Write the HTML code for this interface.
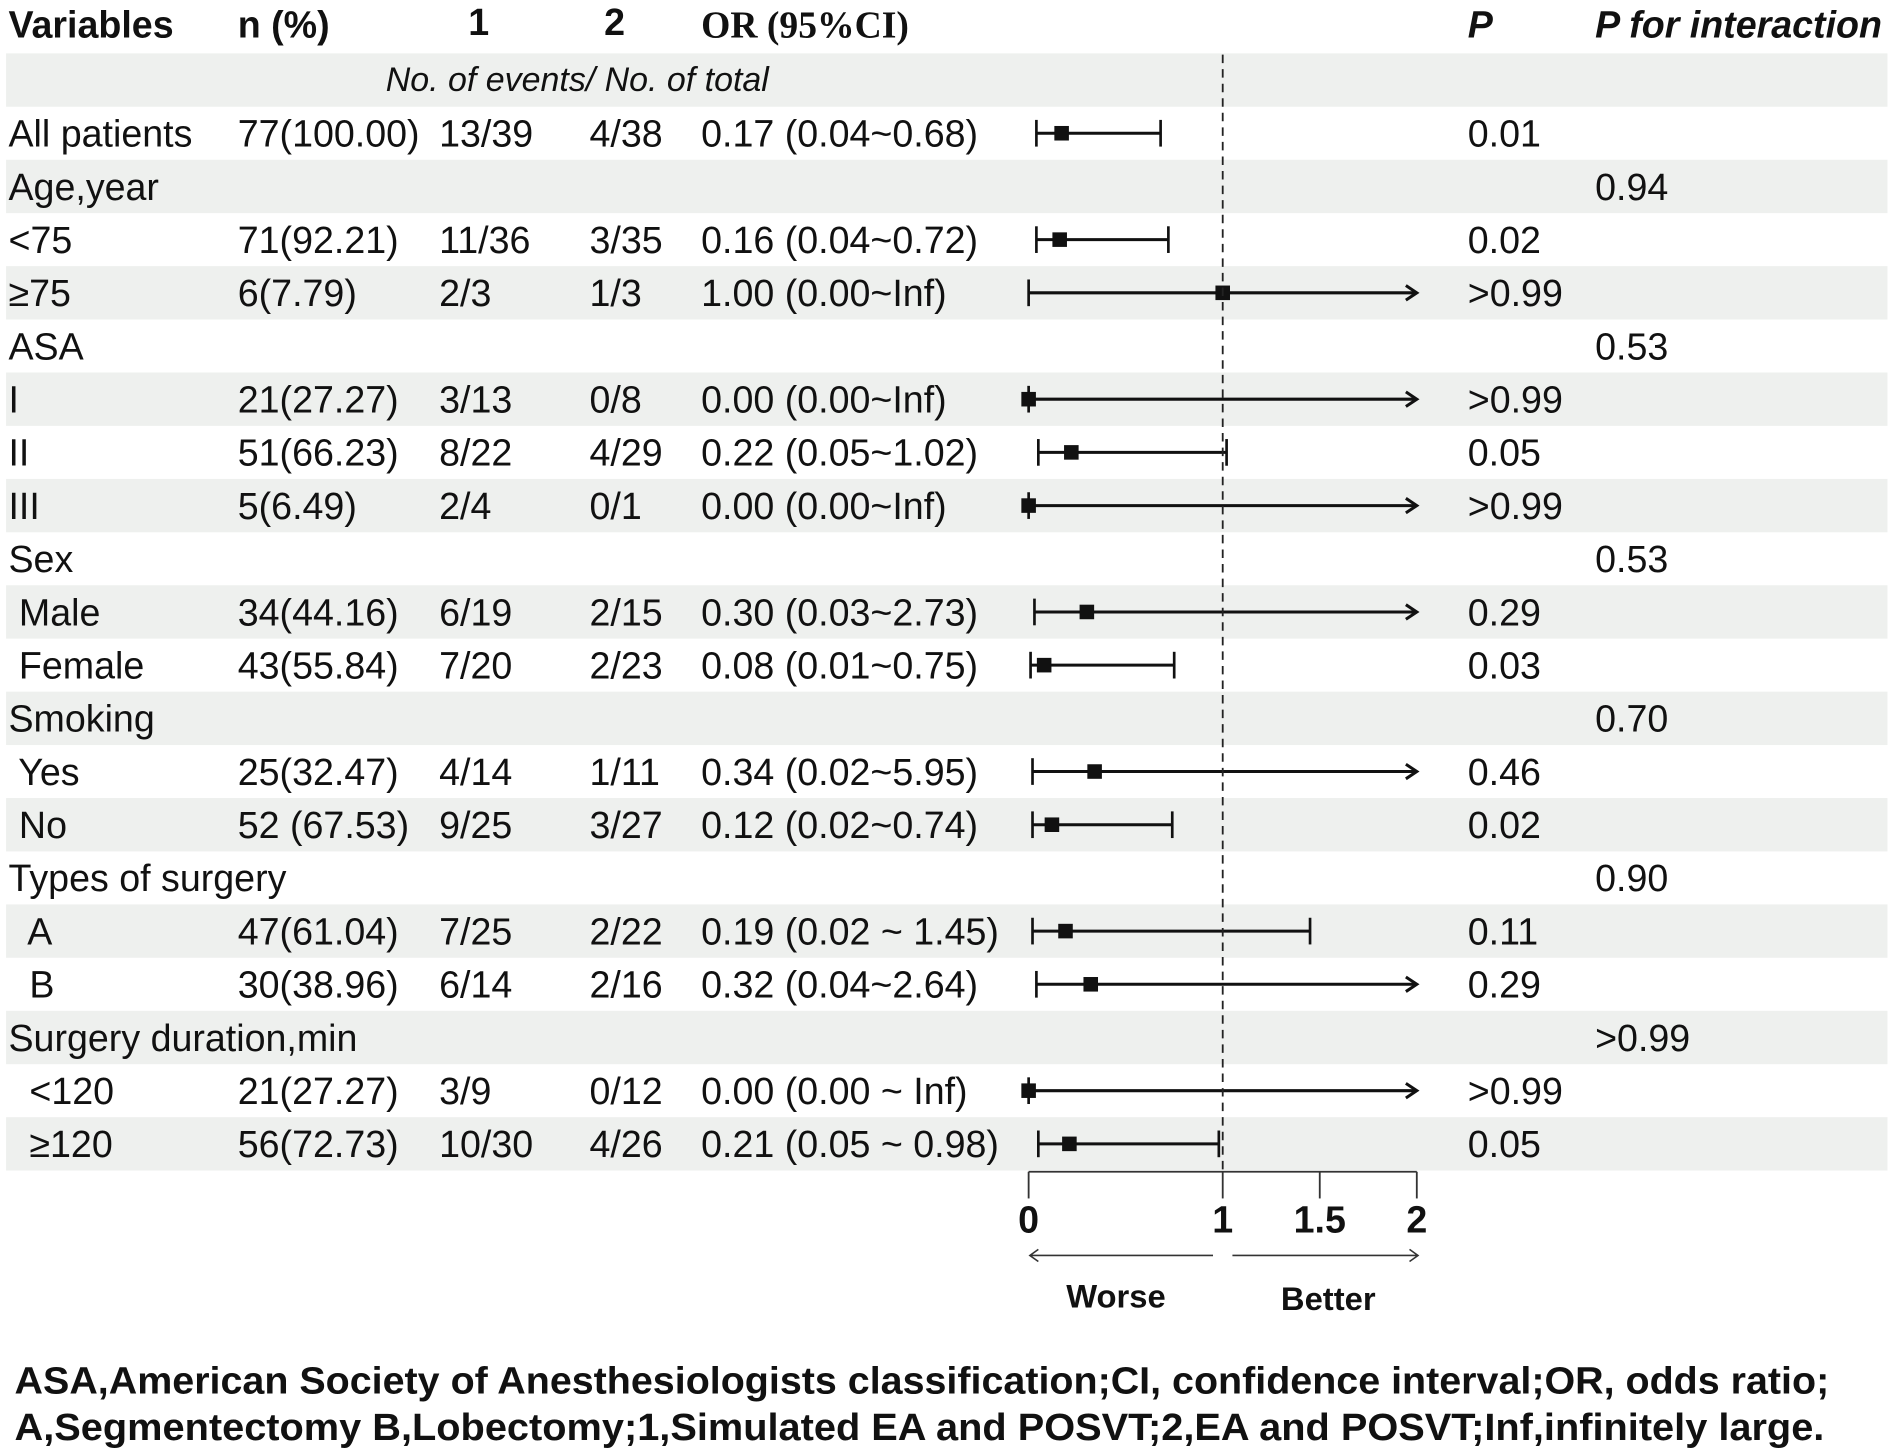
<!DOCTYPE html>
<html><head><meta charset="utf-8"><style>
html,body{margin:0;padding:0;background:#fff}
svg{display:block}
text{font-family:"Liberation Sans",Arial,sans-serif;fill:#111;white-space:pre}
</style></head><body>
<svg id="chart" width="1902" height="1455" viewBox="0 0 1568 1199.5" preserveAspectRatio="none" xmlns="http://www.w3.org/2000/svg">
<g id="bands"></g>
<g id="header" font-weight="bold" font-size="31">
<text x="7" y="31">Variables</text>
<text x="196" y="31">n (%)</text>
<text x="386" y="29">1</text>
<text x="498" y="29">2</text>
<text x="578" y="31" style="font-family:'Liberation Serif',serif">OR (95%CI)</text>
<text x="1210" y="31" font-style="italic">P</text>
<text x="1315" y="31" font-style="italic">P for interaction</text>
</g>
<text x="318" y="75" font-size="28" font-style="italic">No. of events/ No. of total</text>
<g id="rows" font-size="31"></g>
<g id="marks"></g>
<g id="axis"></g>
<g font-weight="bold" font-size="31">
<text x="12" y="1149" textLength="1496" lengthAdjust="spacingAndGlyphs">ASA,American Society of Anesthesiologists classification;CI, confidence interval;OR, odds ratio;</text>
<text x="12" y="1187" textLength="1492" lengthAdjust="spacingAndGlyphs">A,Segmentectomy B,Lobectomy;1,Simulated EA and POSVT;2,EA and POSVT;Inf,infinitely large.</text>
</g>
</svg>
<script>
const labels=["All patients","Age,year","<75","≥75","ASA","I","II","III","Sex"," Male"," Female","Smoking"," Yes"," No","Types of surgery","  A","  B","Surgery duration,min","  <120","  ≥120"];
const nPct=["77(100.00)","","71(92.21)","6(7.79)","","21(27.27)","51(66.23)","5(6.49)","","34(44.16)","43(55.84)","","25(32.47)","52 (67.53)","","47(61.04)","30(38.96)","","21(27.27)","56(72.73)"];
const g1=["13/39","","11/36","2/3","","3/13","8/22","2/4","","6/19","7/20","","4/14","9/25","","7/25","6/14","","3/9","10/30"];
const g2=["4/38","","3/35","1/3","","0/8","4/29","0/1","","2/15","2/23","","1/11","3/27","","2/22","2/16","","0/12","4/26"];
const orText=["0.17 (0.04~0.68)","","0.16 (0.04~0.72)","1.00 (0.00~Inf)","","0.00 (0.00~Inf)","0.22 (0.05~1.02)","0.00 (0.00~Inf)","","0.30 (0.03~2.73)","0.08 (0.01~0.75)","","0.34 (0.02~5.95)","0.12 (0.02~0.74)","","0.19 (0.02 ~ 1.45)","0.32 (0.04~2.64)","","0.00 (0.00 ~ Inf)","0.21 (0.05 ~ 0.98)"];
const orVal=[0.17,null,0.16,1.00,null,0.00,0.22,0.00,null,0.30,0.08,null,0.34,0.12,null,0.19,0.32,null,0.00,0.21];
const loVal=[0.04,null,0.04,0.00,null,0.00,0.05,0.00,null,0.03,0.01,null,0.02,0.02,null,0.02,0.04,null,0.00,0.05];
const hiVal=[0.68,null,0.72,Infinity,null,Infinity,1.02,Infinity,null,2.73,0.75,null,5.95,0.74,null,1.45,2.64,null,Infinity,0.98];
const pVal=["0.01","","0.02",">0.99","",">0.99","0.05",">0.99","","0.29","0.03","","0.46","0.02","","0.11","0.29","",">0.99","0.05"];
const pInt=["","0.94","","","0.53","","","","0.53","","","0.70","","","0.90","","",">0.99","",""];
const ticks=[0,1,1.5,2];
const NS="http://www.w3.org/2000/svg";
const X=v=>848+160*v, XMAX=2;
const rowY=k=>66+43.85*k;
function el(t,a,p){const e=document.createElementNS(NS,t);for(const k in a)e.setAttribute(k,a[k]);p.appendChild(e);return e;}
const bands=document.getElementById('bands'),rows=document.getElementById('rows'),marks=document.getElementById('marks'),axis=document.getElementById('axis');
for(let k=0;k<=20;k+=2){const r=el('rect',{x:5,y:rowY(k)-22,width:1551,height:44,fill:'#eef0ee'},bands);

}
const cols=[[labels,7],[nPct,196],[g1,362],[g2,486],[orText,578],[pVal,1210],[pInt,1315]];
labels.forEach((l,i)=>{const y=rowY(i+1)+11;
cols.forEach(([arr,x],ci)=>{if(!arr[i])return;const t=el('text',{x:x,y:y},rows);t.textContent=arr[i];

});
if(orVal[i]===null)return;
const cy=rowY(i+1);const g=el('g',{},marks);


const x1=X(loVal[i]);const arrow=hiVal[i]>XMAX;const x2=arrow?X(XMAX):X(hiVal[i]);
el('line',{x1:x1,y1:cy,x2:x2,y2:cy,stroke:'#111','stroke-width':2.5},g);
el('line',{x1:x1,y1:cy-11,x2:x1,y2:cy+11,stroke:'#111','stroke-width':2.2},g);
if(arrow)el('path',{d:`M${x2-9},${cy-6} L${x2},${cy} L${x2-9},${cy+6}`,fill:'none',stroke:'#111','stroke-width':2.5},g);
else el('line',{x1:x2,y1:cy-11,x2:x2,y2:cy+11,stroke:'#111','stroke-width':2.2},g);
el('rect',{x:X(orVal[i])-6,y:cy-6,width:12,height:12,fill:'#111'},g);
});
const ref=el('line',{x1:X(1),y1:45,x2:X(1),y2:966,stroke:'#222','stroke-width':1.5,'stroke-dasharray':'7,5'},marks);


el('line',{x1:X(0),y1:966,x2:X(2),y2:966,stroke:'#333','stroke-width':1.5},axis);
ticks.forEach(v=>{el('line',{x1:X(v),y1:966,x2:X(v),y2:988,stroke:'#333','stroke-width':1.5},axis);
const t=el('text',{x:X(v),y:1016,'text-anchor':'middle','font-weight':'bold','font-size':31},axis);t.textContent=String(v);

});
el('path',{d:'M1000,1035 L849,1035 M856,1030 L849,1035 L856,1040',fill:'none',stroke:'#333','stroke-width':1.3},axis);
el('path',{d:'M1016,1035 L1169,1035 M1162,1030 L1169,1035 L1162,1040',fill:'none',stroke:'#333','stroke-width':1.3},axis);
const w=el('text',{x:920,y:1078,'text-anchor':'middle','font-weight':'bold','font-size':27},axis);w.textContent='Worse';


const b=el('text',{x:1095,y:1080,'text-anchor':'middle','font-weight':'bold','font-size':27},axis);b.textContent='Better';


</script>
</body></html>
